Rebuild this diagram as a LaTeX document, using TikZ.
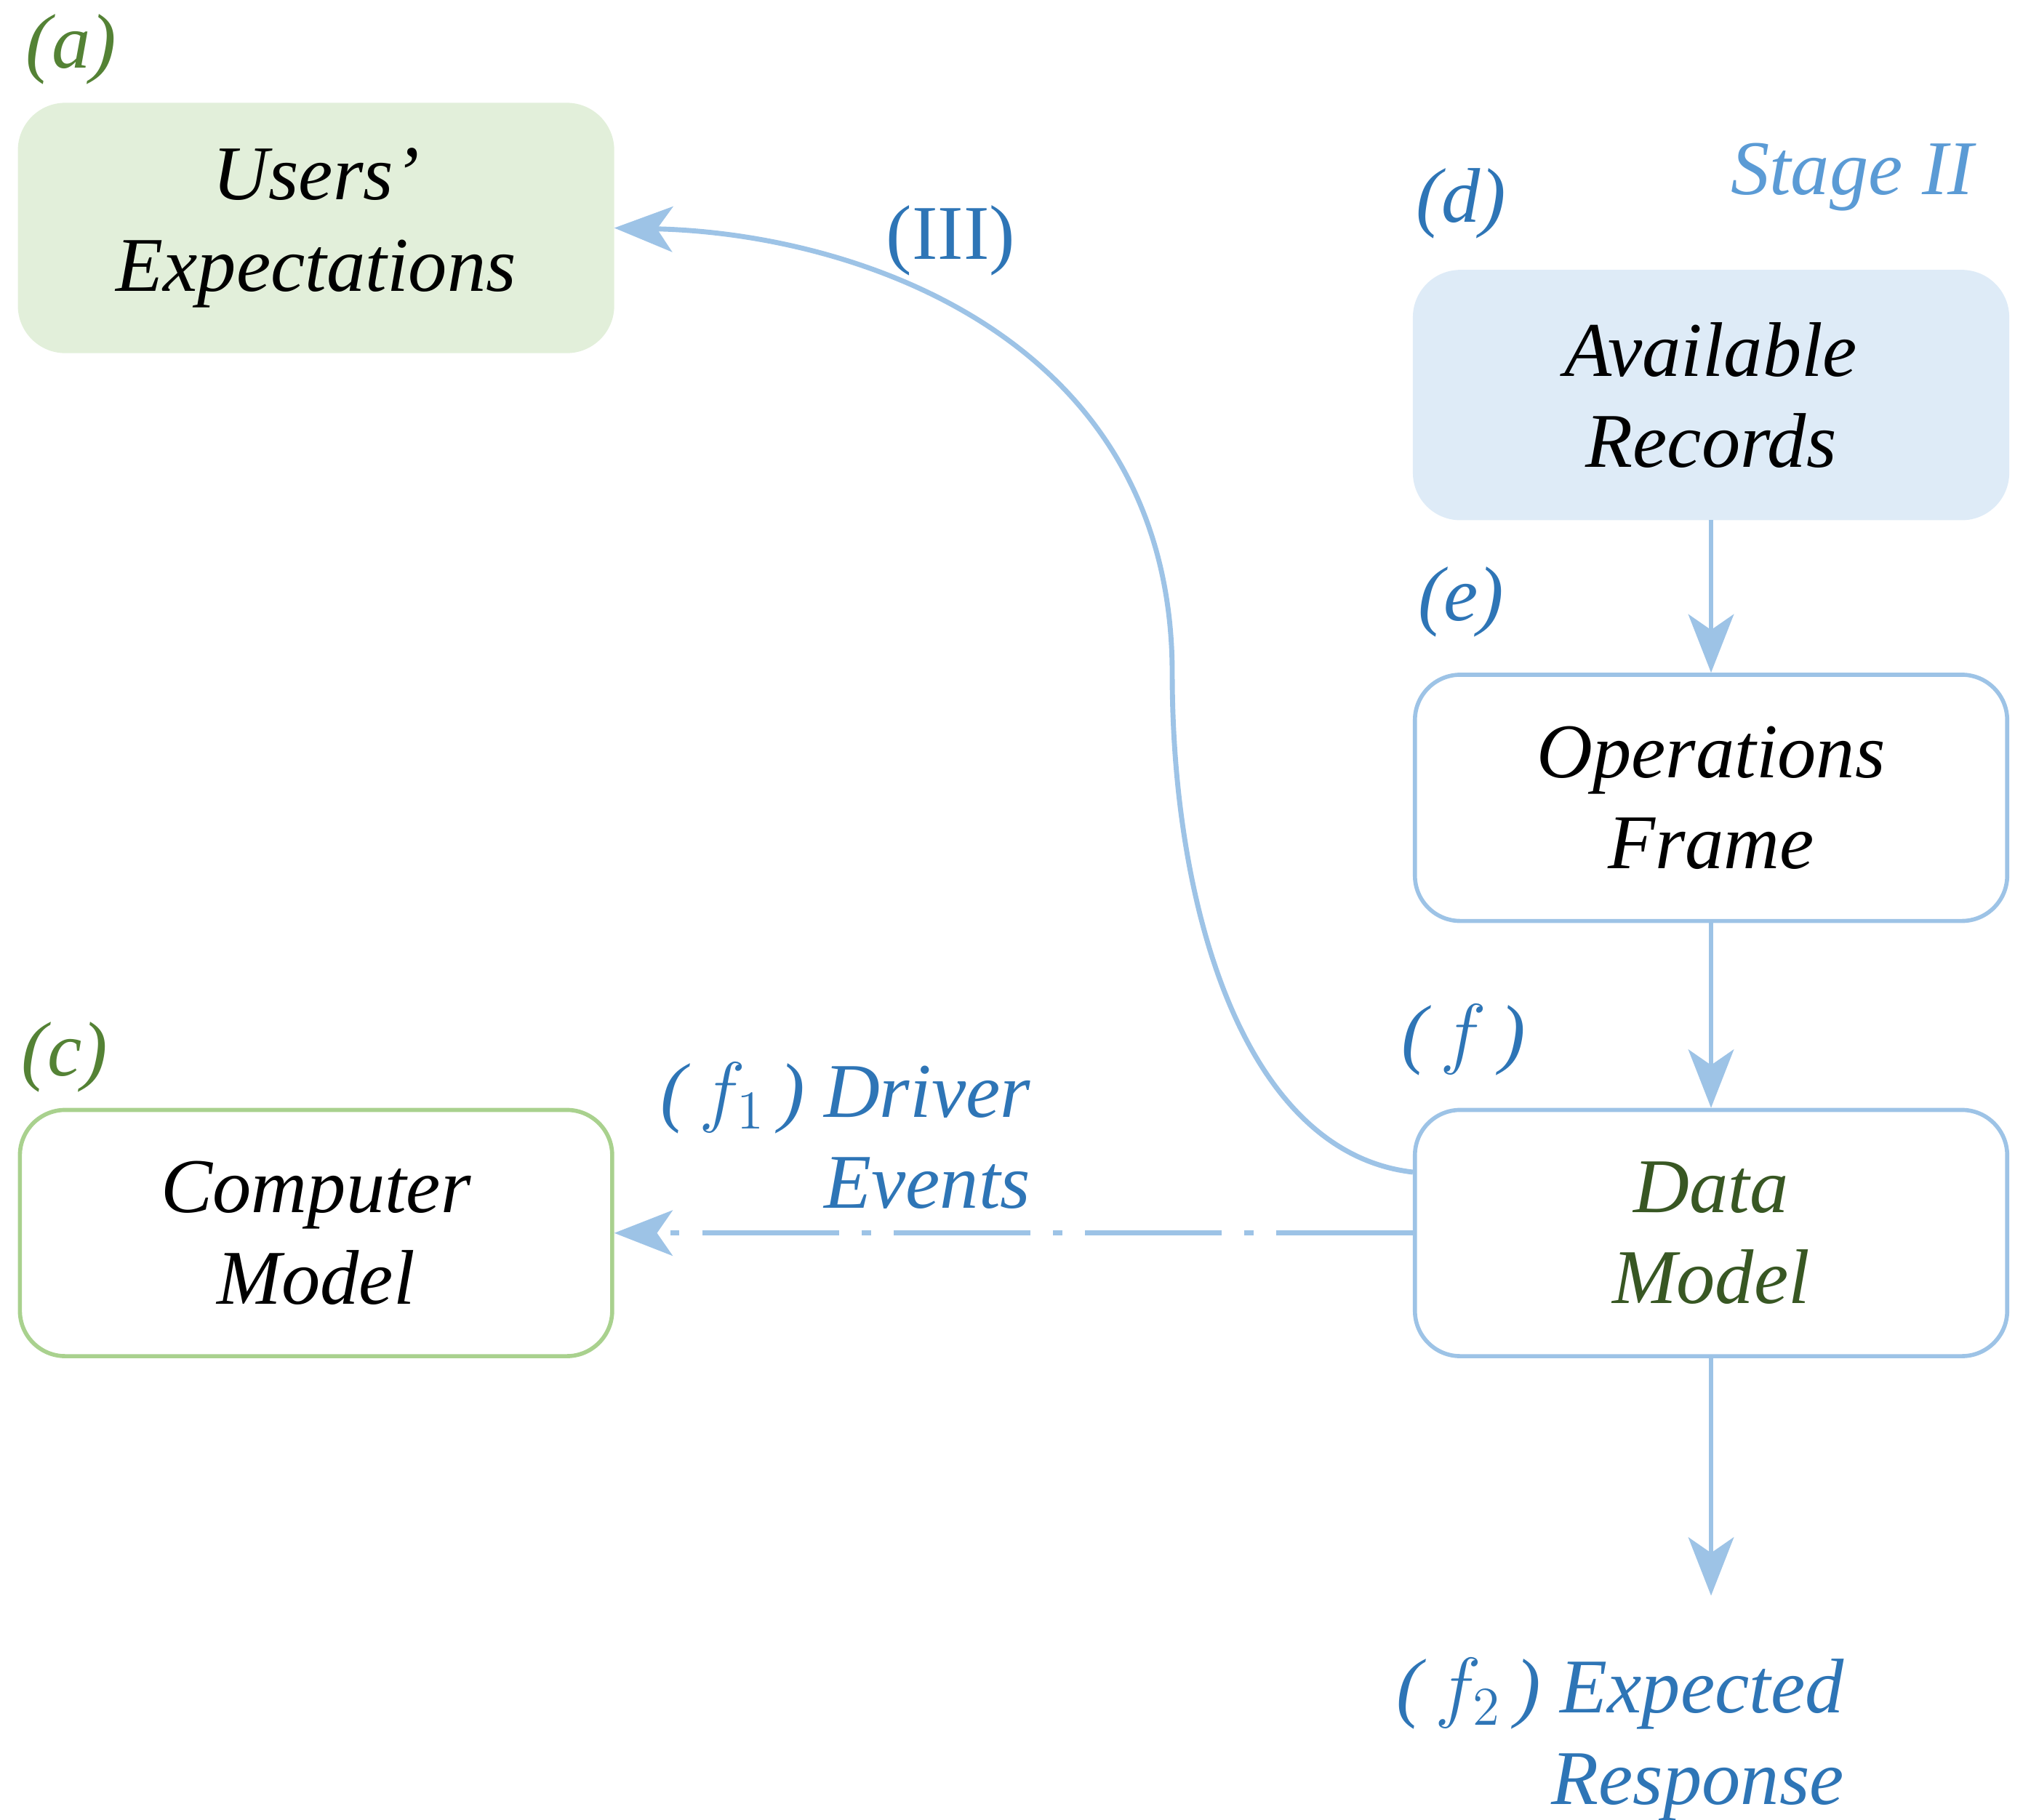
\documentclass[tikz,border=0pt]{standalone}
\usepackage{fontspec}
\setmainfont{Liberation Serif}
\usetikzlibrary{arrows.meta}
\definecolor{gfill}{HTML}{E2EFDA}
\definecolor{bfill}{HTML}{DEEBF7}
\definecolor{bline}{HTML}{9DC3E6}
\definecolor{gline}{HTML}{A9D18E}
\definecolor{gtext}{HTML}{548235}
\definecolor{btext}{HTML}{2E75B6}
\definecolor{ltext}{HTML}{5B9BD5}
\definecolor{dgreen}{HTML}{385723}
\begin{document}
\begin{tikzpicture}[x=0.01cm,y=-0.01cm,
  box/.style={rounded corners=0.35cm,minimum width=4.57cm,minimum height=1.9cm,align=center,font=\fontsize{17}{20}\selectfont\itshape,line width=0.9pt},
  lab/.style={font=\fontsize{17}{20}\selectfont\itshape},
  arr/.style={draw=bline,line width=1.1pt,-{Stealth[length=0.45cm,width=0.35cm,inset=0.12cm]}}]
\useasboundingbox (0,0) rectangle (1568,1405);
\node[box,fill=gfill,draw=gfill] (ue) at (244,176) {Users’\\Expectations};
\node[box,fill=bfill,draw=bfill] (ar) at (1321,305) {Available\\Records};
\node[box,draw=bline] (of) at (1321,616) {Operations\\Frame};
\node[box,draw=bline,text=dgreen] (dm) at (1321,952) {Data\\Model};
\node[box,draw=gline] (cm) at (244,952) {Computer\\Model};
\node[lab,text=gtext] (la) at (55,38) {(a)};
\node[lab,text=gtext] (lc) at (50,816) {(c)};
\node[lab,text=btext] (ld) at (1128,157) {(d)};
\node[lab,text=btext] (le) at (1128,465) {(e)};
\node[lab,text=btext] (lf) at (1130,803) {(\,$f$\,)};
\node[lab,text=ltext] (st) at (1430,137) {Stage II};
\node[font=\fontsize{17}{20}\selectfont,text=btext] (l3) at (734,186) {(III)};
\node[lab,text=btext,align=right,anchor=north east] (f1) at (808,808) {(\,$f_1$\,) Driver\\Events};
\node[lab,text=btext,align=right,anchor=north east] (f2) at (1436,1268) {(\,$f_2$\,) Expected\\Response};
\coordinate (end) at (1321,1232);
\draw[arr] (ar) -- (of);
\draw[arr] (of) -- (dm);
\draw[arr] (dm) -- (end);
\draw[arr,dash pattern=on 30pt off 5pt on 2pt off 5pt] (dm.west) -- (cm.east);
\draw[arr] ([yshift=0.47cm]dm.west) .. controls (960,890) and (905,700) .. (905,520)
  .. controls (905,260) and (660,180) .. (ue.east);
\end{tikzpicture}
\end{document}
